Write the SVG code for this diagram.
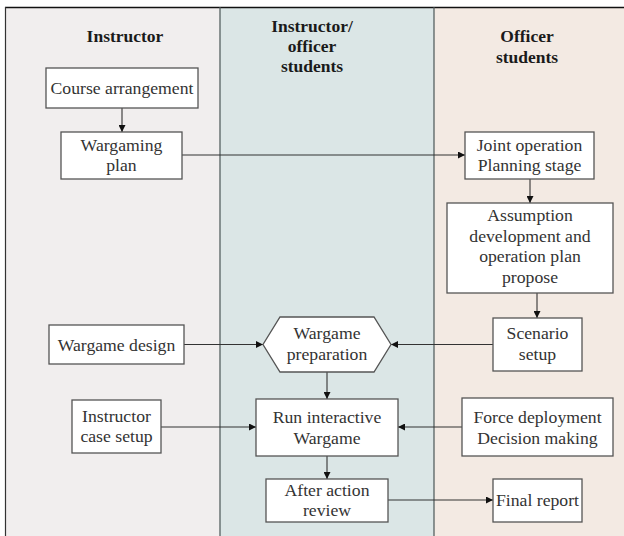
<svg xmlns="http://www.w3.org/2000/svg" width="624" height="536" viewBox="0 0 624 536">
<defs>
<marker id="ah" viewBox="0 0 10 10" refX="10" refY="5" markerWidth="7" markerHeight="7" markerUnits="userSpaceOnUse" orient="auto">
<path d="M0,0 L10,5 L0,10 z" fill="#111"/>
</marker>
<style>
.node{fill:#ffffff;stroke:#555;stroke-width:1.3}
.t{font-family:"Liberation Serif","Times New Roman",serif;font-size:17.7px;fill:#333;text-anchor:middle}
.h{font-family:"Liberation Serif","Times New Roman",serif;font-size:17.5px;font-weight:bold;fill:#1a1a1a;text-anchor:middle}
.c{stroke:#333;stroke-width:1.1;fill:none;marker-end:url(#ah)}
.lane{stroke:none}
.div{stroke:#4a5656;stroke-width:1.2}
</style>
</defs>
<rect x="0" y="0" width="624" height="536" fill="#ffffff"/>
<g id="lanes">
<rect class="lane" x="5" y="7" width="215" height="529" fill="#f1eeee"/>
<rect class="lane" x="220" y="7" width="214" height="529" fill="#dbe6e6"/>
<rect class="lane" x="434" y="7" width="190" height="529" fill="#f3eae3"/>
<line x1="5" y1="7.5" x2="624" y2="7.5" stroke="#111" stroke-width="1.3"/>
<line x1="5.5" y1="7" x2="5.5" y2="536" stroke="#333" stroke-width="1.2"/>
<line class="div" x1="220" y1="7" x2="220" y2="536"/>
<line class="div" x1="434" y1="7" x2="434" y2="536"/>
<text class="h" x="125" y="42">Instructor</text>
<text class="h" x="312" y="32">Instructor/</text>
<text class="h" x="312" y="52">officer</text>
<text class="h" x="312" y="72">students</text>
<text class="h" x="527" y="42">Officer</text>
<text class="h" x="527" y="63">students</text>
</g>
<g id="connectors">
<line class="c" x1="122" y1="108" x2="122" y2="132"/>
<line class="c" x1="182" y1="155" x2="465" y2="155"/>
<line class="c" x1="530" y1="179" x2="530" y2="203"/>
<line class="c" x1="537" y1="293" x2="537" y2="318"/>
<line class="c" x1="184" y1="344.5" x2="263" y2="344.5"/>
<line class="c" x1="493" y1="344.5" x2="391" y2="344.5"/>
<line class="c" x1="327" y1="372" x2="327" y2="399"/>
<line class="c" x1="161" y1="427" x2="256" y2="427"/>
<line class="c" x1="462" y1="427" x2="398" y2="427"/>
<line class="c" x1="327" y1="456" x2="327" y2="479"/>
<line class="c" x1="388" y1="500" x2="493" y2="500"/>
</g>
<g id="course-arrangement">
<rect class="node" x="46" y="68" width="152" height="40"/>
<text class="t" x="122" y="94">Course arrangement</text>
</g>
<g id="wargaming-plan">
<rect class="node" x="61" y="132" width="121" height="47"/>
<text class="t" x="121.5" y="151">Wargaming</text>
<text class="t" x="121.5" y="171">plan</text>
</g>
<g id="joint-operation">
<rect class="node" x="465" y="132" width="129" height="47"/>
<text class="t" x="529.5" y="151">Joint operation</text>
<text class="t" x="529.5" y="171">Planning stage</text>
</g>
<g id="assumption">
<rect class="node" x="447" y="203" width="166" height="90"/>
<text class="t" x="530" y="221">Assumption</text>
<text class="t" x="530" y="241.5">development and</text>
<text class="t" x="530" y="262">operation plan</text>
<text class="t" x="530" y="282.5">propose</text>
</g>
<g id="wargame-design">
<rect class="node" x="49" y="325" width="135" height="39"/>
<text class="t" x="116.5" y="350.5">Wargame design</text>
</g>
<g id="wargame-preparation">
<polygon class="node" points="280,317 374,317 391,344.5 374,372 280,372 263,344.5"/>
<text class="t" x="327" y="339">Wargame</text>
<text class="t" x="327" y="359.5">preparation</text>
</g>
<g id="scenario-setup">
<rect class="node" x="493" y="318" width="89" height="53"/>
<text class="t" x="537.5" y="339">Scenario</text>
<text class="t" x="537.5" y="359.5">setup</text>
</g>
<g id="instructor-case-setup">
<rect class="node" x="72" y="400" width="89" height="53"/>
<text class="t" x="116.5" y="422">Instructor</text>
<text class="t" x="116.5" y="442">case setup</text>
</g>
<g id="run-interactive-wargame">
<rect class="node" x="256" y="399" width="142" height="57"/>
<text class="t" x="327" y="423">Run interactive</text>
<text class="t" x="327" y="443.5">Wargame</text>
</g>
<g id="force-deployment">
<rect class="node" x="462" y="398" width="151" height="58"/>
<text class="t" x="537.5" y="423">Force deployment</text>
<text class="t" x="537.5" y="443.5">Decision making</text>
</g>
<g id="after-action-review">
<rect class="node" x="266" y="479" width="122" height="43"/>
<text class="t" x="327" y="496">After action</text>
<text class="t" x="327" y="515.5">review</text>
</g>
<g id="final-report">
<rect class="node" x="493" y="479" width="89" height="43"/>
<text class="t" x="537.5" y="506">Final report</text>
</g>
</svg>
